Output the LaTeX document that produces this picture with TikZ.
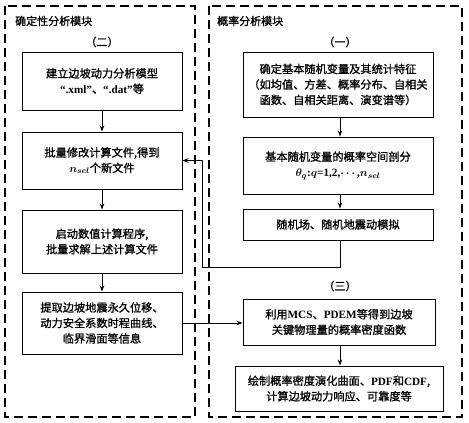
\documentclass[tikz,border=0pt]{standalone}
\usepackage{amsmath}
\usepackage{fontspec}
\setmainfont{Liberation Serif}
\newfontfamily\cjk[FakeBold=1.2]{Noto Sans CJK SC}
\usetikzlibrary{arrows.meta}
\newcommand{\lt}[1]{{\rmfamily\bfseries #1}}
\begin{document}
\begin{tikzpicture}[x=1pt,y=-1pt,
  modbox/.style={draw=black,line width=1.6pt,dash pattern=on 9pt off 5pt},
  procbox/.style={draw=black,line width=0.9pt,align=center,font=\cjk\fontsize{11.2}{15.5}\selectfont,inner sep=0pt},
  lbl/.style={font=\cjk\fontsize{11}{13}\selectfont,inner sep=0pt},
  arr/.style={draw=black,line width=0.8pt,-{Stealth[length=6pt,width=4.5pt]}}]
\useasboundingbox (0,0) rectangle (469,423);
% module frames
\draw[modbox] (5,6) rectangle (195,417);
\draw[modbox] (209,6) rectangle (462,417);
\node[lbl,anchor=west] (tl) at (15,21) {确定性分析模块};
\node[lbl,anchor=west] (tr) at (217,21) {概率分析模块};
\node[lbl] (l2) at (102,42) {（二）};
\node[lbl] (l1) at (340,42) {（一）};
\node[lbl] (l3) at (340,286) {（三）};
% left boxes
\node[procbox,minimum width=160pt,minimum height=58pt] (b1) at (102,81) {建立边坡动力分析模型\\\lt{“.xml”}、\lt{“.dat”}等};
\node[procbox,minimum width=160pt,minimum height=57pt] (b2) at (102,160.5) {批量修改计算文件,得到\\$\boldsymbol{n_{sel}}$个新文件};
\node[procbox,minimum width=160pt,minimum height=63pt] (b3) at (102,241.5) {启动数值计算程序,\\批量求解上述计算文件};
\node[procbox,minimum width=160pt,minimum height=62pt] (b4) at (102,323) {提取边坡地震永久位移、\\动力安全系数时程曲线、\\临界滑面等信息};
% right boxes
\node[procbox,minimum width=190pt,minimum height=65pt] (r1) at (338,84.5) {确定基本随机变量及其统计特征\\（如均值、方差、概率分布、自相关\\函数、自相关距离、演变谱等）};
\node[procbox,minimum width=190pt,minimum height=57pt] (r2) at (338,165.5) {基本随机变量的概率空间剖分\\$\boldsymbol{\theta_q}$\lt{:}$\boldsymbol{q}$\lt{=1,2,}$\boldsymbol{\cdots}$\lt{,}$\boldsymbol{n_{sel}}$};
\node[procbox,minimum width=190pt,minimum height=31pt] (r3) at (338,224.5) {随机场、随机地震动模拟};
\node[procbox,minimum width=192pt,minimum height=46pt] (r4) at (339,322) {利用\lt{MCS}、\lt{PDEM}等得到边坡\\关键物理量的概率密度函数};
\node[procbox,minimum width=208pt,minimum height=45pt] (r5) at (339,388.5) {绘制概率密度演化曲面、\lt{PDF}和\lt{CDF},\\计算边坡动力响应、可靠度等};
% arrows
\draw[arr] (b1) -- (b2);
\draw[arr] (b2) -- (b3);
\draw[arr] (b3) -- (b4);
\draw[arr] (r1.south -| 340,0) -- (r2.north -| 340,0);
\draw[arr] (r2.south -| 340,0) -- (r3.north -| 340,0);
\draw[arr] (r4.south -| 340,0) -- (r5.north -| 340,0);
\draw[arr] (b4.east) -- (b4.east -| r4.west);
\coordinate (c1) at (202,267);
\draw[arr] (r3.south -| 340,0) |- (c1) |- (b2.east);
\end{tikzpicture}
\end{document}
